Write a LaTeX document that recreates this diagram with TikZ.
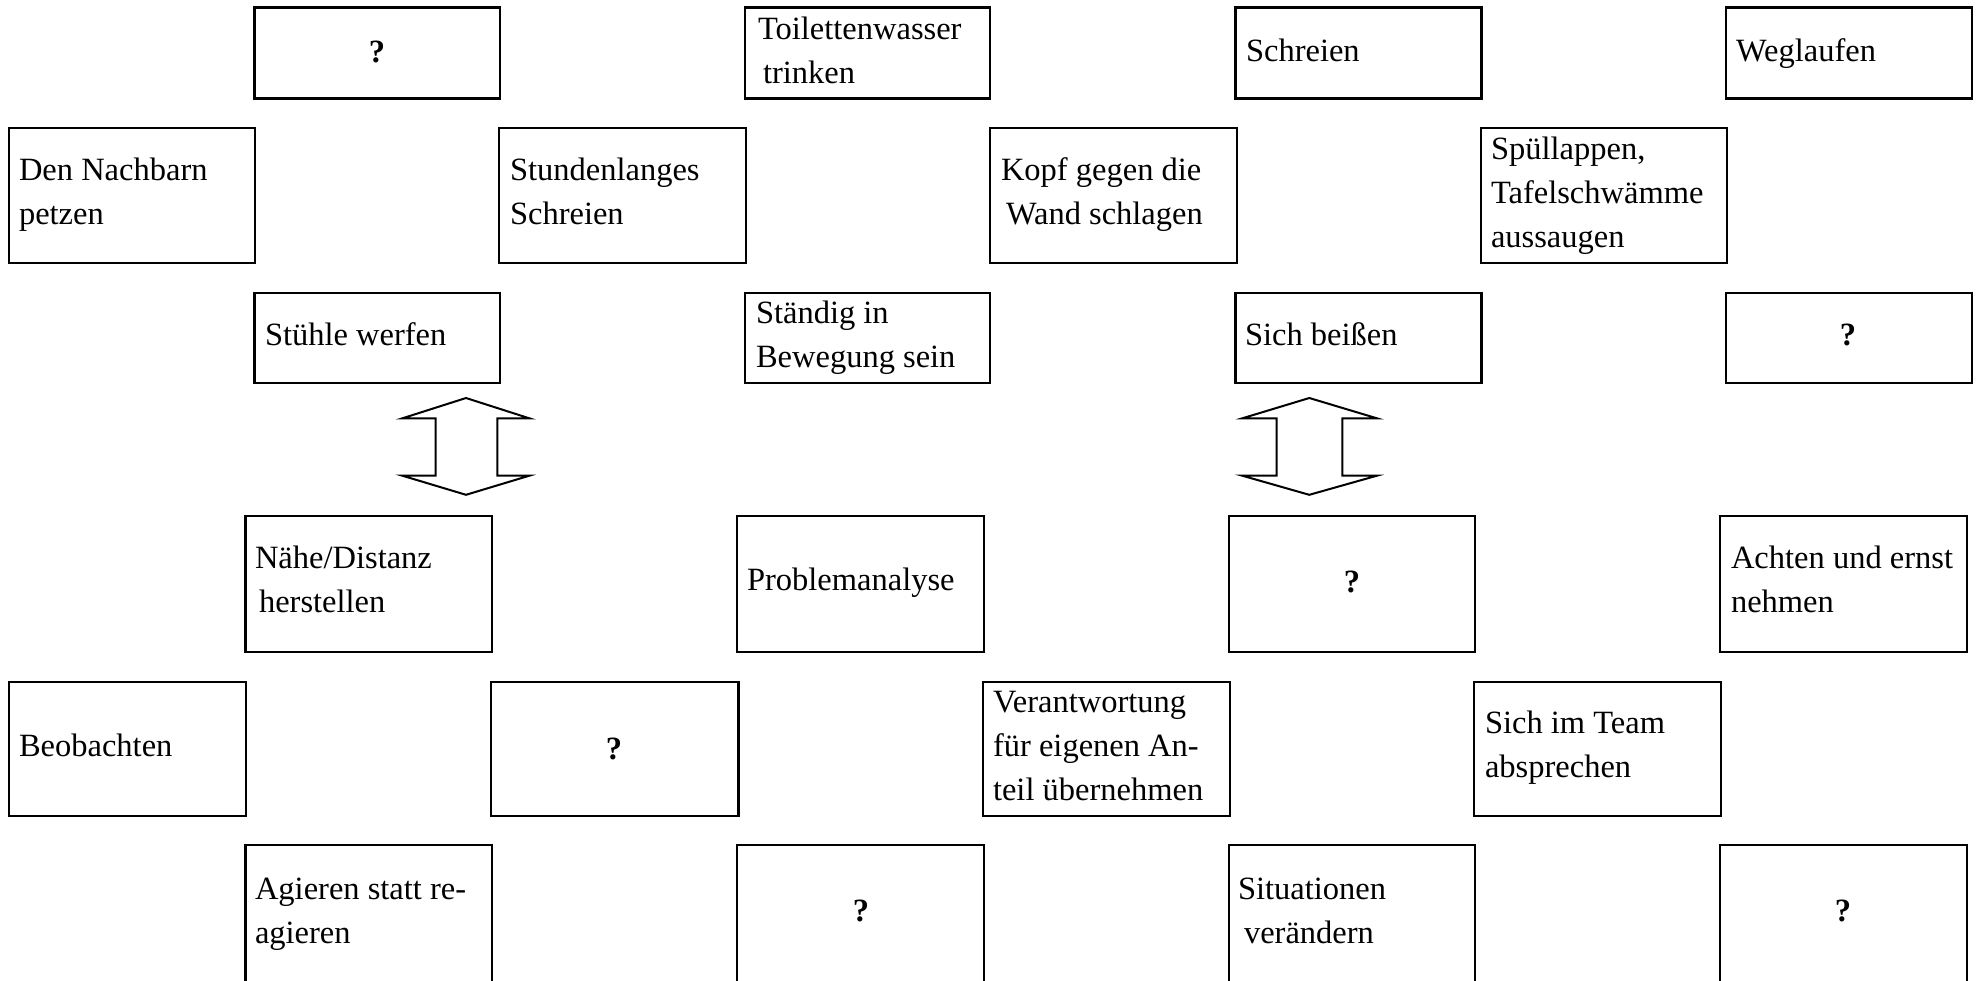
\documentclass[tikz,border=0pt]{standalone}
\usepackage{fontspec}
\setmainfont{Liberation Serif}
\newcommand\mybox[5]{\node[boxst, minimum width={(#4-#2)*1pt}, minimum height={(#5-#3)*1pt}] (#1) at ({(#2+#4)/2},{(#3+#5)/2}) {};}
\tikzset{
  boxst/.style={draw=black, line width=2.4pt, inner sep=0pt, outer sep=0pt, fill=white},
  txt/.style={anchor=base west, inner sep=0pt, outer sep=0pt, align=left, font=\fontsize{32.5}{44}\selectfont},
  qm/.style={anchor=base, inner sep=0pt, outer sep=0pt, font=\fontsize{32.5}{44}\selectfont\bfseries},
  dblarrow/.style={draw=black, line width=2pt, line join=miter, fill=white}
}
\begin{document}
\begin{tikzpicture}[x=1pt,y=-1pt]
\useasboundingbox (0,0) rectangle (1977,980);
\clip (0,0) rectangle (1977,980);
% row 1
\mybox{b11}{254.5}{7.3}{500}{98.3}
\mybox{b12}{745}{7.3}{990}{98.3}
\mybox{b13}{1235.5}{7.3}{1481.5}{98.3}
\mybox{b14}{1726}{7.3}{1972}{98.3}
\node[qm] (t11) at (377,62) {?};
\node[txt] (t12) at (758,83) {Toilettenwasser\\\hspace{5pt}trinken};
\node[txt] (t13) at (1246,61.5) {Schreien};
\node[txt] (t14) at (1736,61.5) {Weglaufen};
% row 2
\mybox{b21}{9}{128}{255}{263}
\mybox{b22}{499}{128}{746}{263}
\mybox{b23}{990}{128}{1237}{263}
\mybox{b24}{1481}{128}{1727}{263}
\node[txt] (t21) at (19,224) {Den Nachbarn\\petzen};
\node[txt] (t22) at (510,224) {Stundenlanges\\Schreien};
\node[txt] (t23) at (1001,224) {Kopf gegen die\\\hspace{5pt}Wand schlagen};
\node[txt] (t24) at (1491,247) {Spüllappen,\\Tafelschwämme\\aussaugen};
% row 3
\mybox{b31}{254.5}{293}{500}{383}
\mybox{b32}{745}{293}{990}{383}
\mybox{b33}{1235.5}{293}{1481.5}{383}
\mybox{b34}{1726}{293}{1972}{383}
\node[txt] (t31) at (265,345) {Stühle werfen};
\node[txt] (t32) at (756,367) {Ständig in\\Bewegung sein};
\node[txt] (t33) at (1245,345) {Sich beißen};
\node[qm] (t34) at (1848,345) {?};
% double arrows
\draw[dblarrow] (466,398) -- (529.3,418.3) -- (497.4,418.3) -- (497.4,475.7) -- (529.3,475.7) -- (466,494.8) -- (402.4,475.7) -- (435.6,475.7) -- (435.6,418.3) -- (402.4,418.3) -- cycle;
\draw[dblarrow] (1309.3,398) -- (1376.9,418.3) -- (1342.4,418.3) -- (1342.4,475.7) -- (1376.9,475.7) -- (1309.3,494.8) -- (1242.3,475.7) -- (1276.7,475.7) -- (1276.7,418.3) -- (1242.3,418.3) -- cycle;
% row 4
\mybox{b41}{245.5}{516}{492}{652}
\mybox{b42}{737}{516}{984}{652}
\mybox{b43}{1229}{516}{1475}{652}
\mybox{b44}{1720}{516}{1967}{652}
\node[txt] (t41) at (255,612) {Nähe/Distanz\\\hspace{4pt}herstellen};
\node[txt] (t42) at (747,590) {Problemanalyse};
\node[qm] (t43) at (1352,592) {?};
\node[txt] (t44) at (1731,612) {Achten und ernst\\nehmen};
% row 5
\mybox{b51}{9}{682}{246}{816}
\mybox{b52}{491}{682}{738.5}{816}
\mybox{b53}{983}{682}{1230}{816}
\mybox{b54}{1474}{682}{1721}{816}
\node[txt] (t51) at (19,756) {Beobachten};
\node[qm] (t52) at (614,759) {?};
\node[txt] (t53) at (993,800) {Verantwortung\\für eigenen An-\\teil übernehmen};
\node[txt] (t54) at (1485,777) {Sich im Team\\absprechen};
% row 6
\mybox{b61}{245.5}{845}{492}{1010}
\mybox{b62}{737}{845}{984}{1010}
\mybox{b63}{1229}{845}{1475}{1010}
\mybox{b64}{1720}{845}{1967}{1010}
\node[txt] (t61) at (255,943) {Agieren statt re-\\agieren};
\node[qm] (t62) at (861,921) {?};
\node[txt] (t63) at (1238,943) {Situationen\\\hspace{6pt}verändern};
\node[qm] (t64) at (1843,921) {?};
\end{tikzpicture}
\end{document}
